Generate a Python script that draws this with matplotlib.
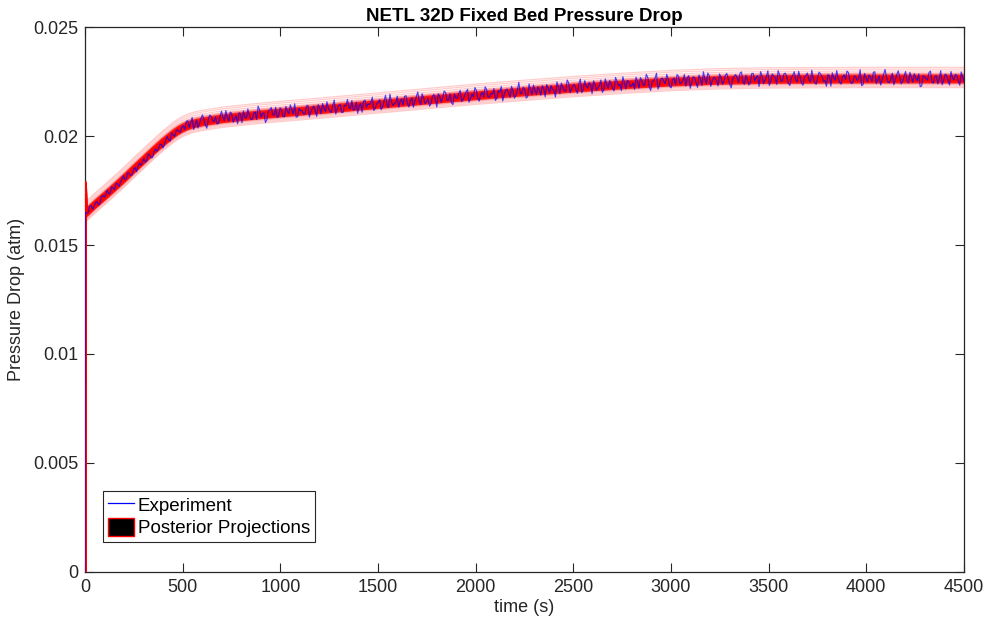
import numpy as np
import matplotlib
matplotlib.use("Agg")
import matplotlib.pyplot as plt
from matplotlib.lines import Line2D
from matplotlib.patches import Patch

plt.rcParams['font.family'] = ['Liberation Sans', 'DejaVu Sans']

# ---------------- data ----------------
# experiment: two interleaved read-outs (every 15 s, offset by 7.5 s), values in 1e-5 atm
exp_start_time = [0.0]
exp_start_1e5 = [0]
exp_time_a = np.arange(1, 4502, 15)
experiment_a_1e5 = [
    1650, 1649, 1681, 1678, 1700, 1691, 1727, 1731, 1735, 1767,
    1753, 1781, 1786, 1818, 1804, 1827, 1822, 1856, 1860, 1866,
    1897, 1885, 1912, 1902, 1941, 1941, 1962, 1959, 1998, 1977,
    2005, 2022, 2021, 2043,
    2029, 2070, 2061, 2030, 2073, 2059, 2097, 2050, 2076, 2090,
    2065, 2055, 2088, 2083, 2117, 2069, 2103, 2080, 2056, 2101,
    2115, 2083, 2097, 2075, 2110, 2137, 2086, 2106, 2075, 2120,
    2100, 2132, 2089,
    2119, 2088, 2114, 2143, 2102, 2086, 2127, 2116, 2101, 2141,
    2111, 2137, 2090, 2130, 2149, 2112, 2128, 2108, 2165, 2123,
    2146, 2108, 2139, 2131, 2163, 2122, 2104, 2149, 2159, 2132,
    2145, 2178, 2127, 2154, 2121, 2161, 2143, 2192, 2140, 2153,
    2132, 2170, 2182, 2148, 2164, 2132, 2179, 2159, 2194, 2149,
    2173, 2148, 2191, 2133, 2182, 2175, 2200, 2164, 2153, 2193,
    2173, 2209, 2167, 2202, 2155, 2193, 2222, 2170, 2192, 2180,
    2213, 2179, 2193, 2163, 2208, 2227, 2189, 2215, 2177, 2208,
    2186, 2246, 2195, 2215, 2180, 2211, 2234, 2190, 2211, 2231,
    2180, 2221, 2231, 2208, 2248, 2194, 2224, 2205, 2244, 2217,
    2235, 2196, 2261, 2214, 2228, 2246, 2194, 2239, 2221, 2257,
    2211, 2237, 2255, 2218, 2269, 2231, 2208, 2247, 2255, 2227,
    2243, 2270, 2220, 2255, 2234, 2269, 2209, 2253, 2288, 2233,
    2266, 2241, 2260, 2221, 2266, 2282, 2239, 2254, 2229, 2277,
    2244, 2268, 2223, 2262, 2295, 2239, 2277, 2252, 2267, 2230,
    2269, 2250, 2287, 2238, 2264, 2282, 2246, 2294, 2237, 2261,
    2244, 2287, 2269, 2227, 2278, 2256, 2299, 2251, 2275, 2237,
    2280, 2254, 2288, 2241, 2267, 2295, 2248, 2272, 2233, 2278,
    2259, 2302, 2245, 2269, 2284, 2251, 2228, 2275, 2290, 2256,
    2264, 2238, 2281, 2298, 2253, 2244, 2273, 2266, 2231, 2287,
    2249, 2270, 2292, 2240, 2276, 2257, 2305, 2246, 2265, 2235,
    2282, 2271, 2250, 2296, 2243, 2268, 2286, 2254, 2226, 2277,
    2263, 2291, 2247, 2273, 2239, 2300, 2255, 2279, 2234, 2267,
    2283, 2252, 2294, 2248,
]
exp_time_b = np.arange(8.5, 4500, 15)
experiment_b_1e5 = [
    1645, 1677, 1664, 1693, 1684, 1720, 1719, 1751, 1738, 1761,
    1782, 1769, 1801, 1800, 1832, 1820, 1846, 1836, 1876, 1879,
    1881, 1918, 1900, 1928, 1931, 1961, 1945, 1980, 1981, 2014,
    1998, 2029, 2017, 2046,
    2067, 2038, 2085, 2052, 2037, 2080, 2076, 2036, 2096, 2070,
    2088, 2058, 2114, 2070, 2086, 2110, 2063, 2094, 2106, 2061,
    2085, 2124, 2078, 2105, 2076, 2120, 2104, 2062, 2115, 2131,
    2094, 2086, 2130,
    2090, 2136, 2103, 2121, 2148, 2089, 2117, 2101, 2137, 2087,
    2127, 2116, 2144, 2102, 2128, 2157, 2114, 2141, 2101, 2140,
    2108, 2141, 2168, 2125, 2119, 2155, 2140, 2109, 2165, 2147,
    2154, 2117, 2149, 2167, 2134, 2187, 2130, 2158, 2147, 2183,
    2159, 2142, 2185, 2133, 2175, 2158, 2202, 2144, 2173, 2157,
    2137, 2181, 2171, 2194, 2155, 2206, 2164, 2194, 2144, 2177,
    2195, 2158, 2187, 2214, 2172, 2180, 2209, 2160, 2201, 2226,
    2177, 2195, 2218, 2174, 2202, 2161, 2211, 2198, 2228, 2174,
    2211, 2195, 2224, 2174, 2239, 2190, 2210, 2226, 2187, 2217,
    2236, 2197, 2215, 2179, 2226, 2243, 2209, 2257, 2199, 2234,
    2212, 2241, 2199, 2254, 2220, 2236, 2253, 2210, 2233, 2200,
    2262, 2219, 2240, 2207, 2252, 2238, 2272, 2216, 2250, 2231,
    2214, 2251, 2268, 2232, 2283, 2226, 2250, 2266, 2215, 2262,
    2249, 2283, 2227, 2259, 2235, 2274, 2245, 2282, 2267, 2219,
    2272, 2243, 2280, 2232, 2262, 2289, 2228, 2268, 2253, 2285,
    2238, 2280, 2261, 2221, 2273, 2267, 2289, 2247, 2279, 2234,
    2287, 2252, 2277, 2295, 2240, 2272, 2232, 2285, 2267, 2300,
    2251, 2286, 2269, 2232, 2278, 2258, 2297, 2243, 2271, 2289,
    2248, 2264, 2237, 2293, 2274, 2255, 2282, 2229, 2267, 2300,
    2246, 2272, 2260, 2291, 2241, 2276, 2253, 2304, 2236, 2268,
    2280, 2250, 2295, 2257, 2234, 2283, 2270, 2245, 2288, 2259,
    2299, 2239, 2275, 2254, 2292, 2247, 2266, 2285, 2230, 2272,
    2256, 2298, 2243, 2277, 2263, 2235, 2284, 2252, 2296, 2258,
    2279, 2233, 2271,
]

# posterior projection central curve (1e-5 atm)
post_time = [0, 1, 5, 50, 100, 150, 200, 250, 300, 350, 400, 450, 475, 500, 525,
             550, 600, 650, 700, 800, 900, 1000, 1250, 1500, 1750, 2000, 2250,
             2500, 2750, 3000, 3250, 3500, 4000, 4500]
post_mean_1e5 = [0, 1775, 1647, 1685, 1724, 1764, 1805, 1848, 1890, 1932, 1972, 2008,
                 2024, 2037, 2047, 2055, 2065, 2072, 2079, 2089, 2098, 2106, 2125,
                 2145, 2165, 2185, 2203, 2220, 2235, 2248, 2256, 2260, 2262, 2262]
# spread of the individual posterior projections around the central curve (1e-5 atm)
outer_offsets_1e5 = [-40, -34, -28, 28, 36, 45, 53]
mid_offsets_1e5 = [-22, -17, 18, 23]
core_offsets_1e5 = [-13, -8, -3, 2, 7, 12]

x_ticks = [0, 500, 1000, 1500, 2000, 2500, 3000, 3500, 4000, 4500]
y_ticks = [0, 0.005, 0.01, 0.015, 0.02, 0.025]
y_tick_labels = ['0', '0.005', '0.01', '0.015', '0.02', '0.025']

# ---------------- plot ----------------
t_all = np.concatenate([exp_start_time, exp_time_a, exp_time_b])
v_all = np.concatenate([exp_start_1e5, experiment_a_1e5, experiment_b_1e5]) * 1e-5
order = np.argsort(t_all, kind='stable')
t_all, v_all = t_all[order], v_all[order]

pt = np.array(post_time, dtype=float)
pm = np.array(post_mean_1e5) * 1e-5

fig = plt.figure(figsize=(9.9, 6.3), dpi=100)
ax = fig.add_axes([0.0859, 0.0921, 0.8878, 0.865])

for off in outer_offsets_1e5:
    ax.plot(pt, pm + off * 1e-5, color=(1, 0, 0), alpha=0.2, lw=0.9, zorder=2)
for off in mid_offsets_1e5:
    ax.plot(pt, pm + off * 1e-5, color=(1, 0, 0), alpha=0.35, lw=1.2, zorder=2)
for off in core_offsets_1e5:
    ax.plot(pt, pm + off * 1e-5, color=(1, 0, 0), alpha=0.8, lw=2.4, zorder=3)
ax.plot(t_all, v_all, color=(0, 0, 1), lw=0.85, alpha=0.7, zorder=4)

ax.set_xlim(0, 4500)
ax.set_ylim(0, 0.025)
ax.set_xticks(x_ticks)
ax.set_xticklabels([str(v) for v in x_ticks])
ax.set_yticks(y_ticks)
ax.set_yticklabels(y_tick_labels)

dark = '#262626'
ax.tick_params(direction='in', length=6.3, width=0.8, top=True, right=True,
               labelsize=13, colors=dark, pad=5)
for s in ax.spines.values():
    s.set_color(dark)
    s.set_linewidth(0.9)

ax.set_xlabel('time (s)', fontsize=13, color=dark, labelpad=2)
ax.set_ylabel('Pressure Drop (atm)', fontsize=13, color=dark, labelpad=6)
ax.set_title('NETL 32D Fixed Bed Pressure Drop', fontsize=13.5, fontweight='bold',
             color='black', pad=4)

handles = [Line2D([0], [0], color=(0, 0, 1), lw=0.9),
           Patch(facecolor='black', edgecolor='red', linewidth=1.0)]
leg = ax.legend(handles, ['Experiment', 'Posterior Projections'],
                loc='lower left', bbox_to_anchor=(0.0205, 0.055), borderaxespad=0,
                fontsize=13.5, fancybox=False, framealpha=1, edgecolor=dark,
                borderpad=0.25, labelspacing=0.15, handlelength=1.4,
                handleheight=1.1, handletextpad=0.2)
leg.get_frame().set_linewidth(0.8)
leg.set_zorder(10)

fig.savefig('out.png', dpi=100)
